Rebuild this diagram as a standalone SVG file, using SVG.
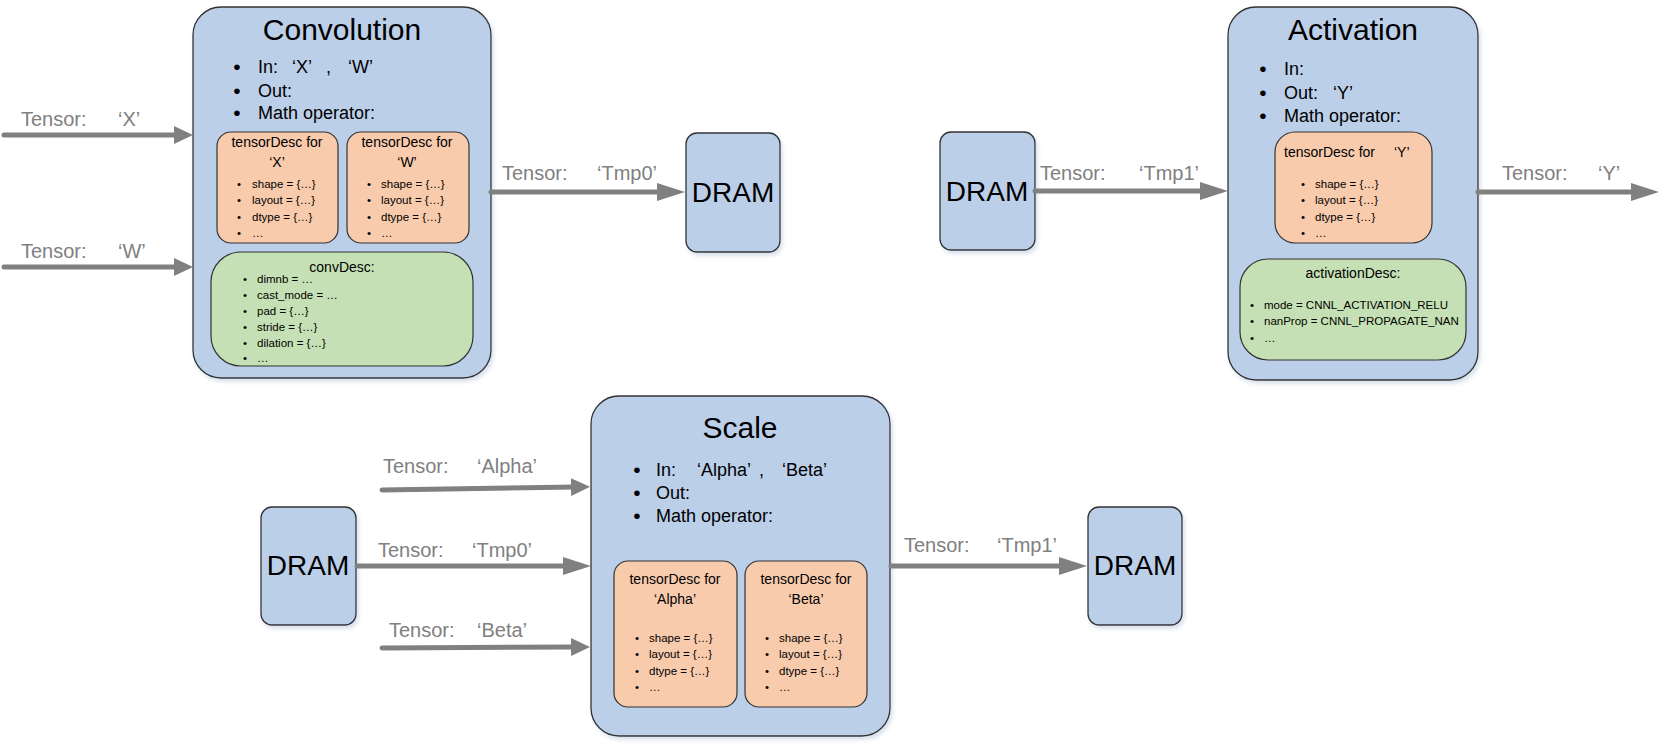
<svg xmlns="http://www.w3.org/2000/svg" width="1660" height="750" viewBox="0 0 1660 750">
<defs>
<filter id="sh" x="-10%" y="-10%" width="130%" height="130%">
<feDropShadow dx="2" dy="3" stdDeviation="2" flood-color="#8ea4c4" flood-opacity="0.35"/>
</filter>
<marker id="hb" markerUnits="userSpaceOnUse" markerWidth="28" markerHeight="18" refX="4" refY="9" orient="auto" viewBox="0 0 28 18">
<path d="M0,0 L28,9 L0,18 Z" fill="#808080"/>
</marker>
<marker id="hs" markerUnits="userSpaceOnUse" markerWidth="19" markerHeight="18" refX="4" refY="9" orient="auto" viewBox="0 0 19 18">
<path d="M0,0 L19,9 L0,18 Z" fill="#808080"/>
</marker>
</defs>
<style>
text{font-family:"Liberation Sans",Arial,sans-serif;fill:#000}
.op{fill:#bccfe9;stroke:#333;stroke-width:1.3;filter:url(#sh)}
.dr{fill:#bccfe9;stroke:#333;stroke-width:1.3;filter:url(#sh)}
.td{fill:#f8cbad;stroke:#333;stroke-width:1.2}
.gd{fill:#c5e0b4;stroke:#333;stroke-width:1.2}
.title{font-size:30px;text-anchor:middle}
.b{font-size:18px}
.bd{font-size:21px;text-anchor:middle}
.dot{text-anchor:middle}
.h{font-size:14px;text-anchor:middle}
.hl{font-size:14px}
.s{font-size:11.5px}
.dram{font-size:28px;text-anchor:middle}
.lbl{font-size:20px;fill:#808080}
.ln{stroke:#808080;stroke-width:5;stroke-linecap:round;fill:none}
</style>

<g id="convolution">
<rect class="op" x="193" y="7" width="298" height="371" rx="28"/>
<text class="title" x="342" y="40">Convolution</text>
<text class="bd" x="237" y="74">•</text><text class="b" y="73"><tspan x="258">In:</tspan><tspan x="292">‘X’</tspan><tspan x="326">,</tspan><tspan x="348">‘W’</tspan></text>
<text class="bd" x="237" y="98">•</text><text class="b" x="258" y="97">Out:</text>
<text class="bd" x="237" y="120">•</text><text class="b" x="258" y="119">Math operator:</text>
<g id="conv-tensordesc-x">
<rect class="td" x="217" y="132" width="121" height="111" rx="14"/>
<text class="h" x="277" y="147">tensorDesc for</text>
<text class="h" x="277" y="167">‘X’</text>
<text class="s dot" x="239" y="188">•</text><text class="s" x="252" y="188">shape = {…}</text>
<text class="s dot" x="239" y="204">•</text><text class="s" x="252" y="204">layout = {…}</text>
<text class="s dot" x="239" y="221">•</text><text class="s" x="252" y="221">dtype = {…}</text>
<text class="s dot" x="239" y="237">•</text><text class="s" x="252" y="237">…</text>
</g>
<g id="conv-tensordesc-w">
<rect class="td" x="347" y="132" width="122" height="111" rx="14"/>
<text class="h" x="407" y="147">tensorDesc for</text>
<text class="h" x="407" y="167">‘W’</text>
<text class="s dot" x="369" y="188">•</text><text class="s" x="381" y="188">shape = {…}</text>
<text class="s dot" x="369" y="204">•</text><text class="s" x="381" y="204">layout = {…}</text>
<text class="s dot" x="369" y="221">•</text><text class="s" x="381" y="221">dtype = {…}</text>
<text class="s dot" x="369" y="237">•</text><text class="s" x="381" y="237">…</text>
</g>
<g id="conv-desc">
<rect class="gd" x="211" y="252" width="262" height="114" rx="30"/>
<text class="h" x="342" y="272">convDesc:</text>
<text class="s dot" x="245" y="283">•</text><text class="s" x="257" y="283">dimnb = …</text>
<text class="s dot" x="245" y="299">•</text><text class="s" x="257" y="299">cast_mode = …</text>
<text class="s dot" x="245" y="315">•</text><text class="s" x="257" y="315">pad = {…}</text>
<text class="s dot" x="245" y="331">•</text><text class="s" x="257" y="331">stride = {…}</text>
<text class="s dot" x="245" y="347">•</text><text class="s" x="257" y="347">dilation = {…}</text>
<text class="s dot" x="245" y="362">•</text><text class="s" x="257" y="362">…</text>
</g>
</g>

<g id="activation">
<rect class="op" x="1228" y="7" width="250" height="373" rx="28"/>
<text class="title" x="1353" y="40">Activation</text>
<text class="bd" x="1263" y="76">•</text><text class="b" x="1284" y="75">In:</text>
<text class="bd" x="1263" y="100">•</text><text class="b" y="99"><tspan x="1284">Out:</tspan><tspan x="1333">‘Y’</tspan></text>
<text class="bd" x="1263" y="123">•</text><text class="b" x="1284" y="122">Math operator:</text>
<g id="act-tensordesc-y">
<rect class="td" x="1275" y="132" width="157" height="111" rx="20"/>
<text class="hl" y="157"><tspan x="1284">tensorDesc for</tspan><tspan x="1394">‘Y’</tspan></text>
<text class="s dot" x="1303" y="188">•</text><text class="s" x="1315" y="188">shape = {…}</text>
<text class="s dot" x="1303" y="204">•</text><text class="s" x="1315" y="204">layout = {…}</text>
<text class="s dot" x="1303" y="221">•</text><text class="s" x="1315" y="221">dtype = {…}</text>
<text class="s dot" x="1303" y="237">•</text><text class="s" x="1315" y="237">…</text>
</g>
<g id="act-desc">
<rect class="gd" x="1240" y="259" width="226" height="101" rx="28"/>
<text class="h" x="1353" y="278">activationDesc:</text>
<text class="s dot" x="1252" y="309">•</text><text class="s" x="1264" y="309">mode = CNNL_ACTIVATION_RELU</text>
<text class="s dot" x="1252" y="325">•</text><text class="s" x="1264" y="325">nanProp = CNNL_PROPAGATE_NAN</text>
<text class="s dot" x="1252" y="342">•</text><text class="s" x="1264" y="342">…</text>
</g>
</g>

<g id="scale">
<rect class="op" x="591" y="396" width="299" height="340" rx="28"/>
<text class="title" x="740" y="438">Scale</text>
<text class="bd" x="637" y="477">•</text><text class="b" y="476"><tspan x="656">In:</tspan><tspan x="697">‘Alpha’</tspan><tspan x="759">,</tspan><tspan x="782">‘Beta’</tspan></text>
<text class="bd" x="637" y="500">•</text><text class="b" x="656" y="499">Out:</text>
<text class="bd" x="637" y="523">•</text><text class="b" x="656" y="522">Math operator:</text>
<g id="scale-tensordesc-alpha">
<rect class="td" x="614" y="561" width="123" height="146" rx="14"/>
<text class="h" x="675" y="584">tensorDesc for</text>
<text class="h" x="675" y="604">‘Alpha’</text>
<text class="s dot" x="637" y="642">•</text><text class="s" x="649" y="642">shape = {…}</text>
<text class="s dot" x="637" y="658">•</text><text class="s" x="649" y="658">layout = {…}</text>
<text class="s dot" x="637" y="675">•</text><text class="s" x="649" y="675">dtype = {…}</text>
<text class="s dot" x="637" y="691">•</text><text class="s" x="649" y="691">…</text>
</g>
<g id="scale-tensordesc-beta">
<rect class="td" x="745" y="561" width="122" height="146" rx="14"/>
<text class="h" x="806" y="584">tensorDesc for</text>
<text class="h" x="806" y="604">‘Beta’</text>
<text class="s dot" x="767" y="642">•</text><text class="s" x="779" y="642">shape = {…}</text>
<text class="s dot" x="767" y="658">•</text><text class="s" x="779" y="658">layout = {…}</text>
<text class="s dot" x="767" y="675">•</text><text class="s" x="779" y="675">dtype = {…}</text>
<text class="s dot" x="767" y="691">•</text><text class="s" x="779" y="691">…</text>
</g>
</g>

<g id="dram1"><rect class="dr" x="686" y="133" width="94" height="119" rx="11"/><text class="dram" x="733" y="202">DRAM</text></g>
<g id="dram2"><rect class="dr" x="940" y="132" width="95" height="118" rx="11"/><text class="dram" x="987" y="201">DRAM</text></g>
<g id="dram3"><rect class="dr" x="261" y="507" width="95" height="118" rx="11"/><text class="dram" x="308" y="575">DRAM</text></g>
<g id="dram4"><rect class="dr" x="1088" y="507" width="94" height="118" rx="11"/><text class="dram" x="1135" y="575">DRAM</text></g>

<g id="connectors">
<line class="ln" x1="4" y1="135" x2="178" y2="135" marker-end="url(#hs)"/>
<text class="lbl" y="126"><tspan x="21">Tensor:</tspan><tspan x="118">‘X’</tspan></text>
<line class="ln" x1="4" y1="267" x2="178" y2="267" marker-end="url(#hs)"/>
<text class="lbl" y="258"><tspan x="21">Tensor:</tspan><tspan x="118">‘W’</tspan></text>

<line class="ln" x1="491" y1="192" x2="661" y2="192" marker-end="url(#hb)"/>
<text class="lbl" y="180"><tspan x="502">Tensor:</tspan><tspan x="597">‘Tmp0’</tspan></text>

<line class="ln" x1="1035" y1="191" x2="1204" y2="191" marker-end="url(#hb)"/>
<text class="lbl" y="180"><tspan x="1040">Tensor:</tspan><tspan x="1139">‘Tmp1’</tspan></text>

<line class="ln" x1="1478" y1="192" x2="1635" y2="192" marker-end="url(#hb)"/>
<text class="lbl" y="180"><tspan x="1502">Tensor:</tspan><tspan x="1598">‘Y’</tspan></text>

<line class="ln" x1="382" y1="490" x2="575" y2="487" marker-end="url(#hs)"/>
<text class="lbl" y="473"><tspan x="383">Tensor:</tspan><tspan x="477">‘Alpha’</tspan></text>

<line class="ln" x1="357" y1="566" x2="567" y2="566" marker-end="url(#hb)"/>
<text class="lbl" y="557"><tspan x="378">Tensor:</tspan><tspan x="472">‘Tmp0’</tspan></text>

<line class="ln" x1="382" y1="648" x2="575" y2="647" marker-end="url(#hs)"/>
<text class="lbl" y="637"><tspan x="389">Tensor:</tspan><tspan x="477">‘Beta’</tspan></text>

<line class="ln" x1="891" y1="566" x2="1063" y2="566" marker-end="url(#hb)"/>
<text class="lbl" y="552"><tspan x="904">Tensor:</tspan><tspan x="997">‘Tmp1’</tspan></text>
</g>
</svg>
